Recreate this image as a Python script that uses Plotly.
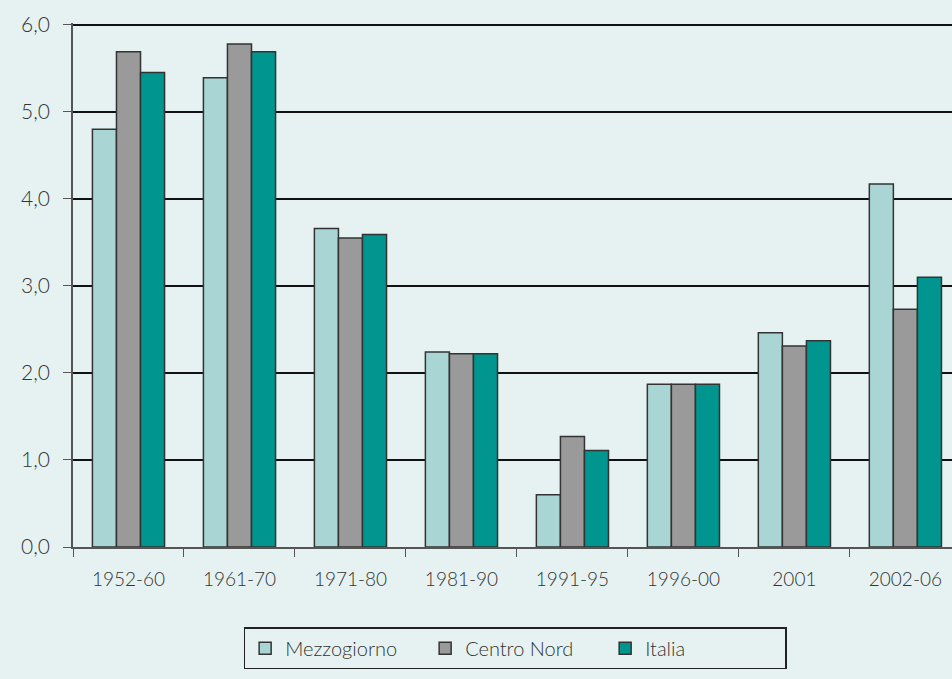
import plotly.graph_objects as go

# Periods and growth rates
periods = ["1952-60", "1961-70", "1971-80", "1981-90", "1991-95", "1996-00", "2001", "2002-06"]
mezzogiorno = [4.80, 5.39, 3.66, 2.24, 0.60, 1.87, 2.46, 4.17]
centro_nord = [5.69, 5.78, 3.55, 2.22, 1.27, 1.87, 2.31, 2.73]
italia = [5.45, 5.69, 3.59, 2.22, 1.11, 1.87, 2.37, 3.10]
y_ticks = [0, 1, 2, 3, 4, 5, 6]

BG = "#E6F2F2"
FONT = "Lato"

fig = go.Figure()
for name, vals, color in [("Mezzogiorno", mezzogiorno, "#A9D5D4"),
                          ("Centro Nord", centro_nord, "#9A9A9A"),
                          ("Italia", italia, "#00958E")]:
    fig.add_trace(go.Bar(
        x=periods, y=vals, name=name,
        marker=dict(color=color, line=dict(color="#333333", width=1.5)),
    ))

fig.update_layout(
    width=952, height=679,
    paper_bgcolor=BG, plot_bgcolor=BG,
    margin=dict(l=73, r=0, t=23, b=132),
    barmode="group", bargap=0.35, bargroupgap=0,
    separators=",.",
    font=dict(family=FONT, size=18, color="#333333", weight=300),
    showlegend=True,
    legend=dict(
        orientation="h", x=0.503, xanchor="center", y=-0.153, yanchor="top",
        bordercolor="#222222", borderwidth=1.5, bgcolor=BG,
        font=dict(family=FONT, size=20, color="#333333", weight=300),
        entrywidth=135, traceorder="normal",
    ),
)

fig.update_xaxes(
    type="category", range=[-0.5, 7.42],
    tickson="boundaries", ticks="outside", ticklen=8, tickcolor="#555555",
    showline=True, linecolor="#555555", linewidth=1.5,
    showgrid=False, tickfont=dict(size=19, weight=300), ticklabelstandoff=14,
)
fig.update_yaxes(
    range=[0, 6.02], tickvals=y_ticks, tickformat=".1f",
    ticks="outside", ticklen=8, tickcolor="#555555",
    showline=True, linecolor="#555555", linewidth=1.5,
    showgrid=True, gridcolor="#111111", gridwidth=1.5,
    zeroline=False, tickfont=dict(size=21, weight=300), ticklabelstandoff=9,
)

fig.write_html(
    "out.html",
    config={"displayModeBar": False},
    post_script="document.body.style.margin='0';document.body.style.background='" + BG + "';",
)
